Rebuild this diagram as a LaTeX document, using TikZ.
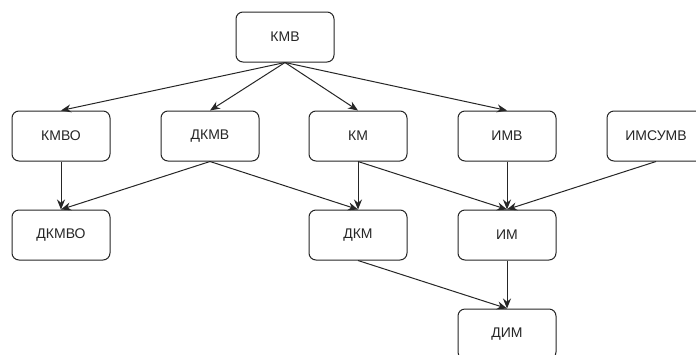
\documentclass[tikz,border=0pt]{standalone}
\usepackage{fontspec}
\setmainfont{Liberation Sans}
\usetikzlibrary{arrows.meta}
\begin{document}
\begin{tikzpicture}[x=1pt,y=-1pt,
  box/.style={draw=black!85, line width=1pt, rounded corners=7pt, minimum width=98pt, minimum height=50pt, inner sep=0pt, font=\fontsize{14}{15}\selectfont, text=black!85},
  arr/.style={draw=black!85, line width=1pt, -{Stealth[length=10pt,width=8pt]}}]
\clip (0,0) rectangle (696,354);
\fill[white] (0,0) rectangle (696,354);
\node[box] (kmv) at (285,37) {КМВ};
\node[box] (kmvo) at (61,136) {КМВО};
\node[box] (dkmv) at (210,136) {ДКМВ};
\node[box] (km) at (358,136) {КМ};
\node[box] (imv) at (507,136) {ИМВ};
\node[box] (imsumv) at (656,136) {ИМСУМВ};
\node[box] (dkmvo) at (61,235) {ДКМВО};
\node[box] (dkm) at (358,235) {ДКМ};
\node[box] (im) at (507,235) {ИМ};
\node[box] (dim) at (507,334) {ДИМ};
\draw[arr] (kmv.south) -- (kmvo.north);
\draw[arr] (kmv.south) -- (dkmv.north);
\draw[arr] (kmv.south) -- (km.north);
\draw[arr] (kmv.south) -- (imv.north);
\draw[arr] (kmvo.south) -- (dkmvo.north);
\draw[arr] (dkmv.south) -- (dkmvo.north);
\draw[arr] (dkmv.south) -- (dkm.north);
\draw[arr] (km.south) -- (dkm.north);
\draw[arr] (km.south) -- (im.north);
\draw[arr] (imv.south) -- (im.north);
\draw[arr] (imsumv.south) -- (im.north);
\draw[arr] (dkm.south) -- (dim.north);
\draw[arr] (im.south) -- (dim.north);
\end{tikzpicture}
\end{document}
